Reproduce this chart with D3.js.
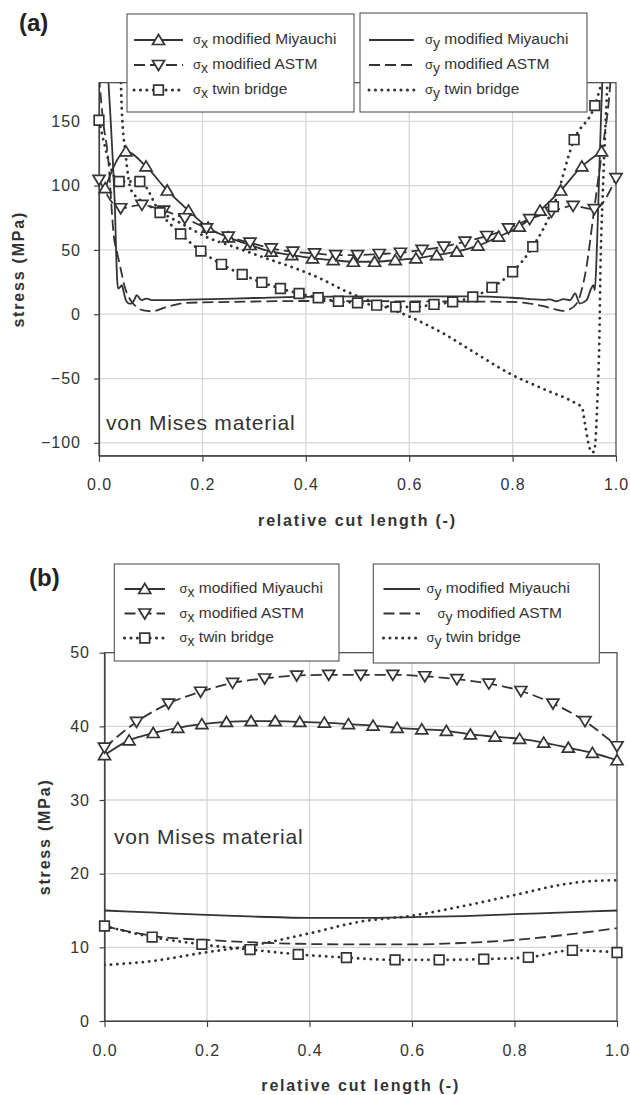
<!DOCTYPE html>
<html><head><meta charset="utf-8">
<script src="https://cdn.jsdelivr.net/npm/d3@7"></script>
<style>
body{margin:0;background:#fff}
svg{display:block}
text{font-family:"Liberation Sans",Arial,sans-serif}
</style>
</head><body>
<svg id="c" width="630" height="1095"></svg>
<script>
// ---------- data ----------
const xTicks = [0, 0.2, 0.4, 0.6, 0.8, 1.0];
const yTicksA = [-100, -50, 0, 50, 100, 150];
const yTicksB = [0, 10, 20, 30, 40, 50];
const legendLabels = ["modified Miyauchi", "modified ASTM", "twin bridge"];
const panelTitles = ["(a)", "(b)"];
const materialLabel = "von Mises material";
const xTitle = "relative cut length (-)";
const yTitle = "stress (MPa)";

// panel (a)
const aSxMiyauchi = [[0.012,98],[0.052,126.6],[0.091,114.9],[0.132,96.2],[0.173,80.6],[0.211,67.3],[0.250,59.8],[0.292,53.8],[0.333,48.6],[0.373,46.0],[0.413,43.4],[0.453,42.1],[0.492,40.8],[0.533,40.8],[0.573,42.1],[0.613,43.4],[0.653,46.0],[0.692,48.6],[0.733,53.3],[0.773,60.3],[0.813,68.1],[0.853,80.6],[0.893,96.2],[0.934,114.9],[0.972,126.6]];
const aSxAstm = [[0,104.5],[0.042,82.4],[0.083,85],[0.125,80.5],[0.166,74.6],[0.208,66.8],[0.25,60.3],[0.292,55.6],[0.333,51.2],[0.375,48.6],[0.417,47.3],[0.458,46],[0.5,46],[0.542,46.8],[0.583,47.8],[0.625,50],[0.667,52.5],[0.708,56.4],[0.75,60.8],[0.792,66.8],[0.833,73.9],[0.875,79.5],[0.917,84.2],[0.958,81.7],[1.0,105.8]];
const aSxTwin = [[0,150.8],[0.039,103.2],[0.079,103.2],[0.118,79],[0.158,62.4],[0.197,49.1],[0.237,38.8],[0.277,31],[0.315,24.7],[0.351,20],[0.387,16.1],[0.424,12.8],[0.463,10.1],[0.5,8.8],[0.537,7],[0.574,5.7],[0.611,5.7],[0.648,7.6],[0.684,9.6],[0.723,13.5],[0.76,20.8],[0.8,33],[0.839,52.5],[0.879,83.7],[0.919,135.7],[0.959,162.2],[1.0,230]];
const aSyMiyauchi = [[0.018,182],[0.022,155],[0.026,125],[0.029,100],[0.031,80],[0.033,50],[0.035,28],[0.037,20],[0.041,21],[0.044,22.6],[0.048,17],[0.052,10.9],[0.057,8.5],[0.063,8.3],[0.068,11],[0.073,14.8],[0.078,12.5],[0.083,10.9],[0.088,11.8],[0.092,12.2],[0.1,11.2],[0.105,10.9],[0.118,10.9],[0.195,11.5],[0.3,12.6],[0.389,13.5],[0.5,13.8],[0.6,13.8],[0.718,13.8],[0.8,12.8],[0.86,11.2],[0.872,11.5],[0.885,10.1],[0.898,11.7],[0.911,10.9],[0.921,16.1],[0.93,8.3],[0.943,10.9],[0.952,20],[0.956,22.6],[0.959,18.7],[0.962,40],[0.964,63],[0.966,89],[0.968,115],[0.97,140],[0.972,165],[0.974,185]];
const aSyAstm = [[0,185],[0.008,150],[0.018,120],[0.024,85],[0.028,63],[0.035,48],[0.041,37],[0.05,21],[0.058,13],[0.066,8.3],[0.076,4.5],[0.086,3],[0.102,2.3],[0.131,5.7],[0.17,8.8],[0.26,9.6],[0.42,10.3],[0.6,10],[0.795,9.6],[0.83,8.5],[0.86,6.2],[0.88,4],[0.898,2.6],[0.918,5.7],[0.93,13.8],[0.943,37],[0.956,76],[0.969,115],[0.978,140],[0.986,165],[0.99,185]];
const aSyTwin = [[0.042,185],[0.044,160],[0.047,140],[0.05,130],[0.054,115],[0.06,99],[0.07,92],[0.079,89],[0.111,81],[0.157,71],[0.208,60],[0.26,52.5],[0.324,43.4],[0.389,34.3],[0.427,28],[0.473,18.7],[0.537,8.3],[0.602,-2.1],[0.666,-15],[0.73,-30.7],[0.795,-46.3],[0.859,-58],[0.924,-69.7],[0.934,-72.3],[0.94,-85.3],[0.947,-100.9],[0.953,-107.4],[0.957,-107],[0.96,-100],[0.964,-67],[0.968,-15],[0.97,37],[0.974,89],[0.979,141],[0.982,167],[0.984,185]];

// panel (b)
const bSxMiyauchi = [[0,36.1],[0.048,38.1],[0.095,39.1],[0.143,39.8],[0.190,40.3],[0.238,40.6],[0.286,40.7],[0.333,40.7],[0.381,40.6],[0.429,40.5],[0.476,40.3],[0.524,40.1],[0.571,39.8],[0.619,39.6],[0.667,39.4],[0.714,38.9],[0.762,38.6],[0.810,38.3],[0.857,37.8],[0.905,37.1],[0.952,36.4],[1.0,35.4]];
const bSxAstm = [[0,37.1],[0.0625,40.6],[0.125,43.1],[0.1875,44.7],[0.25,45.9],[0.3125,46.5],[0.375,46.9],[0.4375,47.0],[0.5,47.0],[0.5625,47.0],[0.625,46.8],[0.6875,46.4],[0.75,45.8],[0.8125,44.8],[0.875,43.1],[0.9375,40.7],[1.0,37.3]];
const bSxTwin = [[0,12.9],[0.093,11.4],[0.19,10.4],[0.284,9.7],[0.378,9.05],[0.472,8.6],[0.567,8.3],[0.653,8.3],[0.74,8.4],[0.827,8.65],[0.913,9.6],[1.0,9.3]];
const bSyMiyauchi = [[0,15.0],[0.1,14.7],[0.2,14.4],[0.3,14.15],[0.4,14.0],[0.5,14.0],[0.6,14.1],[0.7,14.25],[0.8,14.5],[0.9,14.75],[1.0,15.0]];
const bSyAstm = [[0,12.9],[0.05,12.1],[0.1,11.5],[0.2,11.0],[0.3,10.65],[0.4,10.45],[0.5,10.4],[0.6,10.4],[0.7,10.6],[0.8,11.0],[0.9,11.7],[1.0,12.6]];
const bSyTwin = [[0,7.6],[0.1,8.2],[0.186,9.2],[0.284,10.2],[0.4,11.9],[0.5,13.5],[0.6,14.3],[0.7,15.6],[0.8,17.1],[0.9,18.6],[0.95,19.0],[1.0,19.1]];

// ---------- styles ----------
const INK = "#333";
const STY = {
  solid:  {w:1.8, dash:null, cap:"butt"},
  dashed: {w:1.8, dash:"11,5", cap:"butt"},
  dotted: {w:2.8, dash:"0.1,6.3", cap:"round"}
};
const svg = d3.select("#c");

function markerPath(type){
  if(type==="up")   return "M0,-5.5L6,4.5L-6,4.5Z";
  if(type==="down") return "M0,5.5L6,-4.5L-6,-4.5Z";
  if(type==="sq")   return "M-4.8,-4.8H4.8V4.8H-4.8Z";
  return null;
}

let clipId = 0;
function panel(o){
  const x = d3.scaleLinear().domain([0,1]).range(o.xr);
  const y = d3.scaleLinear().domain(o.yd).range(o.yr);
  const g = svg.append("g");
  const [x0,x1] = o.xr, [yb,yt] = o.yr;

  // grid
  g.selectAll("line.gy").data(o.yTicks.filter(v=>v>o.yd[0] && v<o.yd[1])).join("line")
    .attr("x1",x0).attr("x2",x1).attr("y1",d=>y(d)).attr("y2",d=>y(d))
    .attr("stroke","#d6d6d6").attr("stroke-width",1.3);
  g.selectAll("line.gx").data(xTicks.filter(v=>v>0&&v<1)).join("line")
    .attr("x1",d=>x(d)).attr("x2",d=>x(d)).attr("y1",yt).attr("y2",yb)
    .attr("stroke","#d6d6d6").attr("stroke-width",1.3);

  // frame
  g.append("rect").attr("x",x0).attr("y",yt).attr("width",x1-x0).attr("height",yb-yt)
    .attr("fill","none").attr("stroke","#444").attr("stroke-width",1.2);

  // axes
  const ax = g.append("g").attr("transform",`translate(0,${yb})`)
    .call(d3.axisBottom(x).tickValues(xTicks).tickFormat(d3.format(".1f")).tickSize(6).tickSizeOuter(0).tickPadding(o.xPad));
  const ay = g.append("g").attr("transform",`translate(${x0},0)`)
    .call(d3.axisLeft(y).tickValues(o.yTicks).tickFormat(d3.format("d")).tickSize(5).tickSizeOuter(0).tickPadding(o.yPad));
  [ax,ay].forEach(a=>{
    a.select(".domain").attr("stroke","#444").attr("stroke-width",1.2);
    a.selectAll(".tick line").attr("stroke","#444").attr("stroke-width",1.2);
    a.selectAll(".tick text").attr("font-size",16).attr("fill",INK)
      .attr("font-family",'"Liberation Sans",Arial,sans-serif').style("letter-spacing","1px");
  });

  // titles
  g.append("text").attr("x",(x0+x1)/2).attr("y",o.xTitleY).attr("text-anchor","middle")
    .attr("font-size",16).attr("font-weight","bold").attr("fill",INK).style("letter-spacing","1.8px").text(xTitle);
  g.append("text").attr("transform",`translate(${o.yTitleX},${(yb+yt)/2}) rotate(-90)`).attr("text-anchor","middle")
    .attr("font-size",16).attr("font-weight","bold").attr("fill",INK).style("letter-spacing","1.8px").text(yTitle);
  g.append("text").attr("x",o.matX).attr("y",o.matY).attr("font-size",21).attr("fill",INK)
    .style("letter-spacing","0.8px").text(materialLabel);
  g.append("text").attr("x",o.lblX).attr("y",o.lblY).attr("font-size",24).attr("font-weight","bold").attr("fill","#222").text(o.label);

  // clip
  const cid = "clip"+(clipId++);
  g.append("clipPath").attr("id",cid).append("rect").attr("x",x0).attr("y",yt).attr("width",x1-x0).attr("height",yb-yt);

  const line = d3.line().x(d=>x(d[0])).y(d=>y(d[1])).curve(d3.curveMonotoneX);
  const lg = g.append("g").attr("clip-path",`url(#${cid})`);
  o.series.forEach(s=>{
    const st = STY[s.style];
    lg.append("path").attr("d",line(s.data)).attr("fill","none").attr("stroke",INK)
      .attr("stroke-width",st.w).attr("stroke-dasharray",st.dash).attr("stroke-linecap",st.cap)
      .attr("stroke-linejoin","round");
  });
  o.series.forEach(s=>{
    if(!s.marker) return;
    g.selectAll(null).data(s.data.filter(d=>d[1]<=o.yd[1]&&d[1]>=o.yd[0])).join("path")
      .attr("transform",d=>`translate(${x(d[0])},${y(d[1])})`)
      .attr("d",markerPath(s.marker)).attr("fill","#fff").attr("stroke",INK).attr("stroke-width",1.7);
  });

  // legends
  o.legends.forEach(L=>{
    const lgG = g.append("g");
    lgG.append("rect").attr("x",L.x).attr("y",L.y).attr("width",L.w).attr("height",L.h)
      .attr("fill","#fff").attr("stroke","#555").attr("stroke-width",1.1);
    L.rows.forEach((r,i)=>{
      const cy = L.rowY[i];
      const st = STY[r.style];
      lgG.append("line").attr("x1",L.sx0).attr("x2",L.sx1).attr("y1",cy).attr("y2",cy)
        .attr("stroke",INK).attr("stroke-width",st.w+0.2).attr("stroke-dasharray",st.dash).attr("stroke-linecap",st.cap);
      if(r.marker){
        lgG.append("path").attr("transform",`translate(${(L.sx0+L.sx1)/2},${cy})`)
          .attr("d",markerPath(r.marker)).attr("fill","#fff").attr("stroke",INK).attr("stroke-width",1.7);
      }
      const t = lgG.append("text").attr("x",L.tx + (r.indent||0)).attr("y",cy+4).attr("font-size",15.5).attr("fill",INK);
      t.append("tspan").attr("font-size",13).text("σ");
      t.append("tspan").attr("font-size",14).attr("dy",4).text(r.sub);
      t.append("tspan").attr("dy",-4).text(" "+r.text);
    });
  });
}

// ---------- panel (a) ----------
panel({
  label: panelTitles[0], lblX: 19, lblY: 31,
  xr:[99,616], yd:[-110,180], yr:[455.7,82.7], yTicks:yTicksA,
  xPad: 17, yPad: 13, xTitleY: 526, yTitleX: 24,
  matX: 106, matY: 430,
  series:[
    {data:aSyMiyauchi, style:"solid"},
    {data:aSyAstm, style:"dashed"},
    {data:aSyTwin, style:"dotted"},
    {data:aSxMiyauchi, style:"solid", marker:"up"},
    {data:aSxAstm, style:"dashed", marker:"down"},
    {data:aSxTwin, style:"dotted", marker:"sq"}
  ],
  legends:[
    {x:127,y:14,w:227,h:98,sx0:134,sx1:183,tx:193,rowY:[40,65,90],
     rows:[{style:"solid",marker:"up",sub:"x",text:legendLabels[0]},
           {style:"dashed",marker:"down",sub:"x",text:legendLabels[1]},
           {style:"dotted",marker:"sq",sub:"x",text:legendLabels[2]}]},
    {x:360,y:13,w:227,h:99,sx0:369,sx1:414,tx:425,rowY:[40,65,90],
     rows:[{style:"solid",sub:"y",text:legendLabels[0]},
           {style:"dashed",sub:"y",text:legendLabels[1]},
           {style:"dotted",sub:"y",text:legendLabels[2]}]}
  ]
});

// ---------- panel (b) ----------
panel({
  label: panelTitles[1], lblX: 29, lblY: 586,
  xr:[104.5,617], yd:[0,50], yr:[1021,652.7], yTicks:yTicksB,
  xPad: 18, yPad: 9.5, xTitleY: 1091, yTitleX: 50,
  matX: 114, matY: 844,
  series:[
    {data:bSyMiyauchi, style:"solid"},
    {data:bSyAstm, style:"dashed"},
    {data:bSyTwin, style:"dotted"},
    {data:bSxMiyauchi, style:"solid", marker:"up"},
    {data:bSxAstm, style:"dashed", marker:"down"},
    {data:bSxTwin, style:"dotted", marker:"sq"}
  ],
  legends:[
    {x:114.3,y:564,w:224.7,h:97,sx0:124.5,sx1:165,tx:179.5,rowY:[589,613.5,638],
     rows:[{style:"solid",marker:"up",sub:"x",text:legendLabels[0]},
           {style:"dashed",marker:"down",sub:"x",text:legendLabels[1]},
           {style:"dotted",marker:"sq",sub:"x",text:legendLabels[2]}]},
    {x:373.3,y:564,w:226,h:99,sx0:383.5,sx1:420,tx:426.5,rowY:[589,613.5,638],
     rows:[{style:"solid",sub:"y",text:legendLabels[0]},
           {style:"dashed",sub:"y",text:legendLabels[1],indent:11},
           {style:"dotted",sub:"y",text:legendLabels[2]}]}
  ]
});
</script>
</body></html>
